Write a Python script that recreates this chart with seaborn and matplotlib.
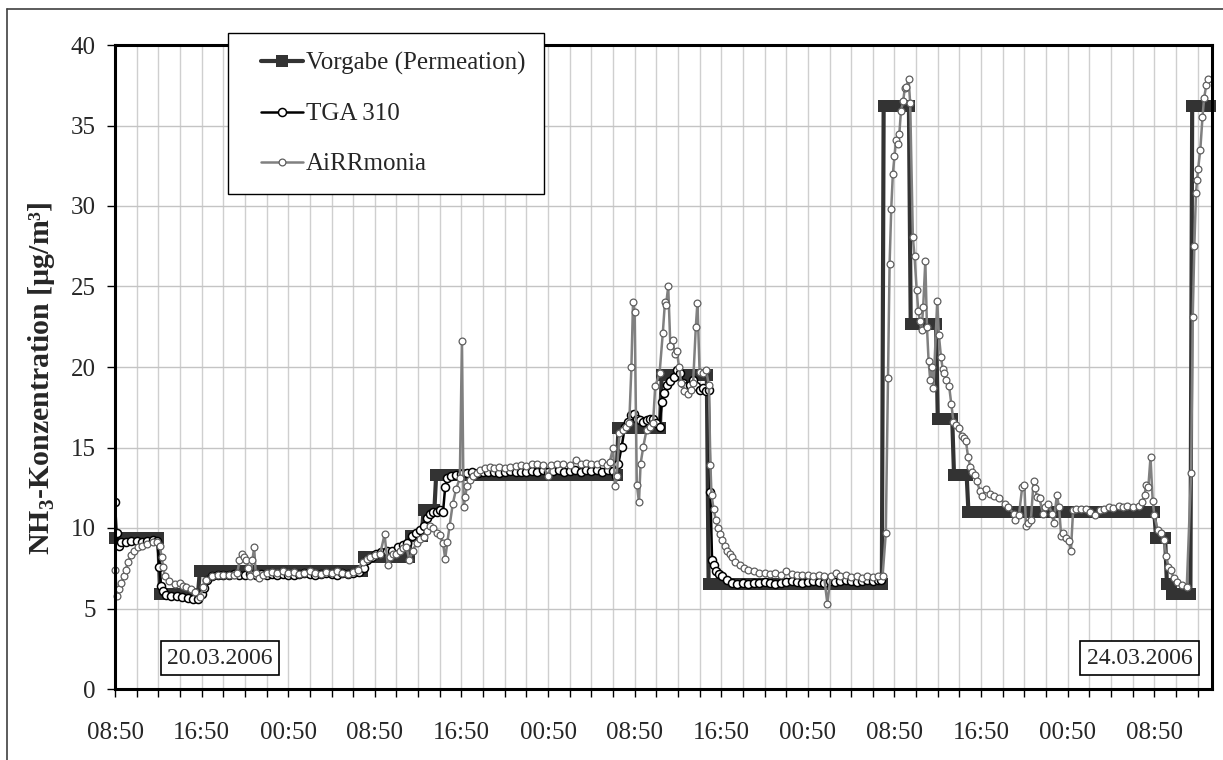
import numpy as np
import pandas as pd
import seaborn as sns
import matplotlib
matplotlib.use("Agg")
import matplotlib.pyplot as plt
from matplotlib.lines import Line2D
from matplotlib.legend_handler import HandlerLine2D
from matplotlib.ticker import MultipleLocator

# =========================================================
# DATA  (time axis in hours after 20.03.2006 08:50)
# =========================================================
X_END = 101.33

X_MAJOR = [0, 8, 16, 24, 32, 40, 48, 56, 64, 72, 80, 88, 96]
X_LABELS = ["08:50", "16:50", "00:50", "08:50", "16:50", "00:50", "08:50",
            "16:50", "00:50", "08:50", "16:50", "00:50", "08:50"]

# set-point schedule of the permeation source: start hour and level
VORGABE_START = [0, 4.15, 7.8, 22.85, 27.2, 28.4, 29.6, 46.5, 50.5, 54.8,
                 70.95, 73.5, 76.0, 77.4, 78.8, 96.1, 97.1, 97.6, 99.35]
VORGABE_LEVEL = [9.4, 5.9, 7.3, 8.2, 9.5, 11.1, 13.3, 16.2, 19.5, 6.5,
                 36.2, 22.7, 16.8, 13.3, 11.0, 9.4, 6.5, 5.9, 36.2]

# TGA 310 (hour, ug/m3)
TGA_POINTS = [
    (0.0, 11.6), (0.15, 9.7), (0.35, 8.9), (0.6, 9.1), (1.0, 9.15), (1.5, 9.2),
    (2.0, 9.2), (2.5, 9.15), (3.0, 9.2), (3.5, 9.25), (3.9, 9.2), (4.1, 7.6),
    (4.25, 6.4), (4.4, 6.1), (4.7, 5.85), (5.2, 5.75), (5.7, 5.75), (6.2, 5.7),
    (6.7, 5.65), (7.2, 5.6), (7.7, 5.6), (8.0, 5.9), (8.2, 6.3), (8.5, 6.8),
    (9.0, 7.0), (9.5, 7.05), (10.0, 7.1), (10.5, 7.1), (11.0, 7.15), (11.5, 7.1),
    (12.0, 7.1), (12.5, 7.15), (13.0, 7.1), (13.5, 7.15), (14.0, 7.1), (14.5, 7.15),
    (15.0, 7.1), (15.5, 7.15), (16.0, 7.1), (16.5, 7.1), (17.0, 7.15), (17.5, 7.2),
    (18.0, 7.15), (18.5, 7.1), (19.0, 7.15), (19.5, 7.2), (20.0, 7.15), (20.5, 7.1),
    (21.0, 7.2), (21.5, 7.15), (22.0, 7.2), (22.5, 7.25), (23.0, 7.5), (23.3, 8.0),
    (23.7, 8.2), (24.1, 8.4), (24.6, 8.5), (25.1, 8.55), (25.6, 8.6), (26.1, 8.8),
    (26.6, 8.95), (27.0, 9.05), (27.4, 9.5), (27.8, 9.7), (28.2, 9.9), (28.5, 10.1),
    (28.8, 10.6), (29.1, 10.9), (29.4, 11.0), (29.7, 11.0), (30.0, 11.1), (30.3, 11.0),
    (30.5, 12.55), (30.7, 13.1), (31.0, 13.2), (31.5, 13.3), (32.0, 13.35), (32.5, 13.4),
    (33.0, 13.45), (33.5, 13.4), (34.0, 13.5), (34.5, 13.45), (35.0, 13.5), (35.5, 13.4),
    (36.0, 13.5), (36.5, 13.55), (37.0, 13.5), (37.5, 13.45), (38.0, 13.5), (38.5, 13.55),
    (39.0, 13.5), (39.5, 13.6), (40.0, 13.5), (40.5, 13.55), (41.0, 13.6), (41.5, 13.5),
    (42.0, 13.55), (42.5, 13.6), (43.0, 13.5), (43.5, 13.6), (44.0, 13.55), (44.5, 13.6),
    (45.0, 13.5), (45.5, 13.6), (46.0, 13.55), (46.3, 13.2), (46.5, 14.0), (46.8, 15.05),
    (47.1, 16.3), (47.4, 16.6), (47.7, 17.0), (47.9, 17.1), (48.2, 16.8), (48.5, 16.7),
    (48.8, 16.6), (49.1, 16.7), (49.4, 16.8), (49.7, 16.8), (50.0, 16.5), (50.3, 16.3),
    (50.5, 17.8), (50.7, 18.4), (51.0, 18.9), (51.3, 19.1), (51.6, 19.4), (51.9, 19.8),
    (52.2, 19.6), (52.5, 19.0), (52.8, 18.8), (53.1, 18.9), (53.4, 19.2), (53.7, 18.8),
    (54.0, 18.6), (54.3, 18.7), (54.6, 18.5), (54.85, 18.6), (55.0, 12.25), (55.15, 8.0),
    (55.3, 7.7), (55.5, 7.3), (55.8, 7.15), (56.1, 7.0), (56.5, 6.8), (57.0, 6.6),
    (57.5, 6.55), (58.0, 6.6), (58.5, 6.55), (59.0, 6.6), (59.5, 6.6), (60.0, 6.65),
    (60.5, 6.6), (61.0, 6.55), (61.5, 6.6), (62.0, 6.65), (62.5, 6.7), (63.0, 6.65),
    (63.5, 6.6), (64.0, 6.65), (64.5, 6.7), (65.0, 6.65), (65.5, 6.6), (66.0, 6.7),
    (66.5, 6.65), (67.0, 6.7), (67.5, 6.75), (68.0, 6.7), (68.5, 6.65), (69.0, 6.7),
    (69.5, 6.75), (70.0, 6.7), (70.5, 6.75), (70.8, 6.8),
]

# AiRRmonia (hour, ug/m3)
AIR_POINTS = [
    (0.0, 7.4), (0.2, 5.8), (0.4, 6.2), (0.6, 6.6), (0.8, 7.0), (1.0, 7.4), (1.2, 7.9),
    (1.5, 8.3), (1.8, 8.6), (2.1, 8.8), (2.5, 8.9), (3.0, 9.0), (3.5, 9.1), (3.9, 9.15),
    (4.15, 8.9), (4.3, 8.2), (4.45, 7.6), (4.6, 7.0), (5.0, 6.7), (5.5, 6.5), (6.0, 6.6),
    (6.3, 6.4), (6.6, 6.35), (7.0, 6.2), (7.4, 6.0), (7.85, 5.7), (8.15, 6.35), (8.45, 6.8),
    (9.0, 7.0), (9.5, 7.05), (10.0, 7.05), (10.5, 7.1), (11.0, 7.1), (11.3, 7.2), (11.5, 8.0),
    (11.7, 8.4), (11.9, 8.2), (12.1, 8.0), (12.3, 7.5), (12.5, 7.0), (12.7, 8.0), (12.85, 8.8),
    (13.0, 7.2), (13.3, 6.9), (13.7, 7.1), (14.0, 7.2), (14.5, 7.25), (15.0, 7.2), (15.5, 7.3),
    (16.0, 7.2), (16.5, 7.25), (17.0, 7.15), (17.5, 7.2), (18.0, 7.3), (18.5, 7.2), (19.0, 7.15),
    (19.5, 7.25), (20.0, 7.2), (20.5, 7.3), (21.0, 7.2), (21.5, 7.15), (22.0, 7.25), (22.4, 7.4),
    (22.9, 7.9), (23.3, 8.1), (23.6, 8.2), (24.0, 8.3), (24.5, 8.4), (24.9, 9.6), (25.2, 7.7),
    (25.4, 8.2), (25.7, 8.4), (26.0, 8.4), (26.3, 8.6), (26.6, 8.75), (26.9, 8.85), (27.2, 8.0),
    (27.5, 8.6), (27.85, 9.05), (28.2, 9.3), (28.5, 9.45), (28.8, 9.8), (29.1, 10.1), (29.4, 10.0),
    (29.7, 9.7), (30.0, 9.55), (30.3, 9.05), (30.5, 8.1), (30.7, 9.1), (30.9, 10.1), (31.2, 11.5),
    (31.5, 12.4), (31.85, 13.1), (32.05, 21.6), (32.2, 11.3), (32.35, 11.9), (32.5, 12.6),
    (32.8, 13.0), (33.1, 13.2), (33.4, 13.4), (33.7, 13.6), (34.2, 13.7), (34.6, 13.8), (35.0, 13.7),
    (35.5, 13.8), (36.0, 13.75), (36.5, 13.8), (37.0, 13.85), (37.5, 13.9), (38.0, 13.85),
    (38.5, 13.95), (39.0, 14.0), (39.5, 13.9), (40.0, 13.25), (40.3, 13.9), (40.8, 14.0),
    (41.4, 14.0), (42.0, 13.9), (42.6, 14.2), (43.0, 13.95), (43.5, 14.05), (44.0, 14.0),
    (44.5, 14.0), (45.0, 14.1), (45.4, 13.9), (45.7, 14.1), (46.0, 14.95), (46.2, 12.6),
    (46.35, 13.2), (46.6, 15.9), (46.9, 16.1), (47.2, 16.3), (47.5, 16.5), (47.7, 20.0),
    (47.85, 24.05), (48.0, 23.4), (48.2, 12.7), (48.4, 11.6), (48.55, 14.0), (48.8, 15.05),
    (49.1, 16.1), (49.4, 16.3), (49.7, 16.5), (49.9, 18.8), (50.3, 19.6), (50.6, 22.1),
    (50.8, 24.05), (50.9, 23.85), (51.1, 25.0), (51.3, 21.3), (51.5, 21.7), (51.7, 20.8),
    (51.9, 21.0), (52.1, 20.0), (52.3, 19.0), (52.6, 18.5), (52.9, 18.3), (53.2, 18.6),
    (53.4, 19.0), (53.65, 22.5), (53.8, 24.0), (54.0, 19.7), (54.3, 19.6), (54.6, 19.8),
    (54.85, 18.9), (55.0, 13.9), (55.1, 12.05), (55.3, 11.15), (55.5, 10.5), (55.7, 10.0),
    (55.9, 9.6), (56.1, 9.25), (56.3, 8.9), (56.5, 8.6), (56.8, 8.4), (57.0, 8.2), (57.3, 7.9),
    (57.7, 7.7), (58.1, 7.5), (58.5, 7.4), (59.0, 7.3), (59.5, 7.2), (60.0, 7.2), (60.5, 7.15),
    (61.0, 7.2), (61.5, 7.1), (62.0, 7.3), (62.5, 7.15), (63.0, 7.1), (63.5, 7.05), (64.0, 7.1),
    (64.5, 7.0), (65.0, 7.05), (65.5, 7.0), (65.8, 5.3), (66.1, 7.0), (66.6, 7.2), (67.0, 7.0),
    (67.5, 7.05), (68.0, 6.95), (68.5, 7.0), (69.0, 6.9), (69.5, 7.0), (70.0, 6.95), (70.5, 7.0),
    (70.9, 7.0), (71.2, 9.7), (71.4, 19.3), (71.55, 26.4), (71.7, 29.8), (71.85, 32.0),
    (72.0, 33.1), (72.15, 34.1), (72.3, 33.85), (72.45, 34.5), (72.6, 35.9), (72.8, 36.5),
    (72.95, 37.3), (73.1, 37.4), (73.3, 37.9), (73.45, 36.4), (73.7, 28.05), (73.85, 26.9),
    (74.05, 24.8), (74.2, 23.5), (74.35, 22.85), (74.5, 22.3), (74.65, 23.7), (74.85, 26.6),
    (75.0, 22.5), (75.15, 20.4), (75.3, 19.2), (75.45, 20.0), (75.6, 18.7), (75.95, 24.1),
    (76.1, 22.0), (76.3, 20.6), (76.45, 19.9), (76.6, 19.6), (76.8, 19.2), (77.05, 18.8),
    (77.25, 17.7), (77.45, 16.6), (77.7, 16.4), (77.95, 16.2), (78.2, 15.7), (78.4, 15.6),
    (78.6, 15.4), (78.8, 14.4), (79.0, 13.8), (79.2, 13.5), (79.4, 13.3), (79.6, 12.9),
    (79.9, 12.3), (80.1, 12.0), (80.5, 12.4), (80.8, 12.1), (81.2, 12.0), (81.7, 11.85),
    (82.2, 11.5), (82.5, 11.3), (83.0, 10.9), (83.15, 10.5), (83.5, 10.8), (83.8, 12.55),
    (84.0, 12.65), (84.15, 10.1), (84.35, 10.3), (84.6, 10.5), (84.85, 12.9), (85.0, 12.5),
    (85.15, 11.95), (85.4, 11.85), (85.7, 10.9), (85.95, 11.3), (86.2, 11.5), (86.55, 10.9),
    (86.7, 10.3), (87.0, 12.05), (87.2, 11.3), (87.4, 9.5), (87.6, 9.7), (87.85, 9.4),
    (88.1, 9.2), (88.3, 8.6), (88.5, 11.1), (88.8, 11.2), (89.2, 11.15), (89.7, 11.2),
    (90.1, 11.0), (90.5, 10.8), (91.0, 11.1), (91.4, 11.2), (91.8, 11.3), (92.2, 11.25),
    (92.7, 11.35), (93.1, 11.3), (93.5, 11.35), (94.0, 11.3), (94.6, 11.35), (94.9, 11.6),
    (95.1, 12.05), (95.25, 12.7), (95.45, 12.55), (95.65, 14.4), (95.85, 11.7), (96.0, 10.8),
    (96.3, 9.9), (96.6, 9.7), (96.9, 9.25), (97.1, 8.25), (97.3, 7.6), (97.5, 7.4), (97.8, 6.9),
    (98.1, 6.65), (98.6, 6.45), (99.0, 6.35), (99.4, 13.4), (99.55, 23.1), (99.7, 27.5),
    (99.85, 30.8), (99.95, 31.6), (100.05, 32.3), (100.25, 33.5), (100.45, 35.5), (100.6, 36.7),
    (100.8, 37.5), (101.0, 37.9),
]

# =========================================================
# PREP
# =========================================================
vorg_t = np.arange(0, X_END + 1e-6, 1 / 6)  # 10-min grid
vorg_idx = np.searchsorted(VORGABE_START, vorg_t, side="right") - 1
vorgabe = pd.DataFrame({"h": vorg_t, "val": np.array(VORGABE_LEVEL)[vorg_idx]})

tga = pd.DataFrame(TGA_POINTS, columns=["h", "val"])
air = pd.DataFrame(AIR_POINTS, columns=["h", "val"])

# =========================================================
# FIGURE
# =========================================================
sns.set_style("ticks")
plt.rcParams["font.family"] = ["Liberation Serif", "DejaVu Serif"]
plt.rcParams["mathtext.fontset"] = "custom"
plt.rcParams["mathtext.rm"] = "Liberation Serif"
plt.rcParams["mathtext.bf"] = "Liberation Serif:bold"

W, H = 1223, 760
fig = plt.figure(figsize=(W / 100, H / 100), dpi=100)
ax = fig.add_axes([115 / W, 71 / H, 1097 / W, 644 / H])

sns.lineplot(data=vorgabe, x="h", y="val", ax=ax, estimator=None, sort=False,
             color="#333333", linewidth=3, marker="s", markersize=8.4,
             markeredgewidth=0, label="Vorgabe (Permeation)", zorder=3, clip_on=False)
sns.lineplot(data=tga, x="h", y="val", ax=ax, estimator=None, sort=False,
             color="black", linewidth=1.8, marker="o", markersize=5.8,
             markerfacecolor="white", markeredgecolor="black", markeredgewidth=1.1,
             label="TGA 310", zorder=4)
sns.lineplot(data=air, x="h", y="val", ax=ax, estimator=None, sort=False,
             color="#808080", linewidth=1.8, marker="o", markersize=4.9,
             markerfacecolor="white", markeredgecolor="#5e5e5e", markeredgewidth=0.9,
             label="AiRRmonia", zorder=5, clip_on=False)

ax.set_xlim(0, X_END)
ax.set_ylim(0, 40)
ax.set_xticks(X_MAJOR)
ax.set_xticklabels(X_LABELS)
ax.xaxis.set_minor_locator(MultipleLocator(2))
ax.yaxis.set_major_locator(MultipleLocator(5))
ax.set_xlabel("")
ax.set_ylabel(r"NH$_\mathbf{3}$-Konzentration [µg/m³]", fontsize=21.5, fontweight="bold")
ax.yaxis.set_label_coords(-0.053, 0.482)

ax.tick_params(axis="x", which="both", length=6, width=1, direction="out",
               pad=17.5, labelsize=18, color="black")
ax.tick_params(axis="y", which="major", length=6, width=1, direction="out",
               pad=8, labelsize=18, color="black")

ax.set_axisbelow(True)
ax.grid(axis="x", which="both", color="#cfcfcf", linewidth=1.0)
ax.grid(axis="y", which="major", color="#c4c4c4", linewidth=1.0)
for sp in ax.spines.values():
    sp.set_visible(True)
    sp.set_color("black")
    sp.set_linewidth(2.2)
    sp.set_zorder(6)

handles, labels = ax.get_legend_handles_labels()
leg = ax.legend(handles, labels, loc="upper left", bbox_to_anchor=(0.1027, 1.018),
                borderaxespad=0, frameon=True, fancybox=False, framealpha=1,
                edgecolor="black", fontsize=18, labelspacing=1.1, borderpad=0.75,
                handlelength=2.26, handletextpad=0.12,
                handler_map={Line2D: HandlerLine2D(xpad=0.58)})
leg.get_frame().set_linewidth(1.0)
leg.set_zorder(10)

# date boxes
box = dict(boxstyle="square,pad=0.28", facecolor="white", edgecolor="black", linewidth=1.2)
ax.text(0.0957, 0.048, "20.03.2006", transform=ax.transAxes, ha="center", va="center",
        fontsize=17, bbox=box, zorder=7)
ax.text(0.934, 0.048, "24.03.2006", transform=ax.transAxes, ha="center", va="center",
        fontsize=17, bbox=box, zorder=7)

# outer chart frame (left and top edges visible)
fig.add_artist(Line2D([7 / W, 7 / W], [0, 1 - 9 / H], transform=fig.transFigure,
                      color="#404040", linewidth=1.2))
fig.add_artist(Line2D([7 / W, 1], [1 - 9 / H, 1 - 9 / H], transform=fig.transFigure,
                      color="#404040", linewidth=1.2))

fig.savefig("out.png", dpi=100)
